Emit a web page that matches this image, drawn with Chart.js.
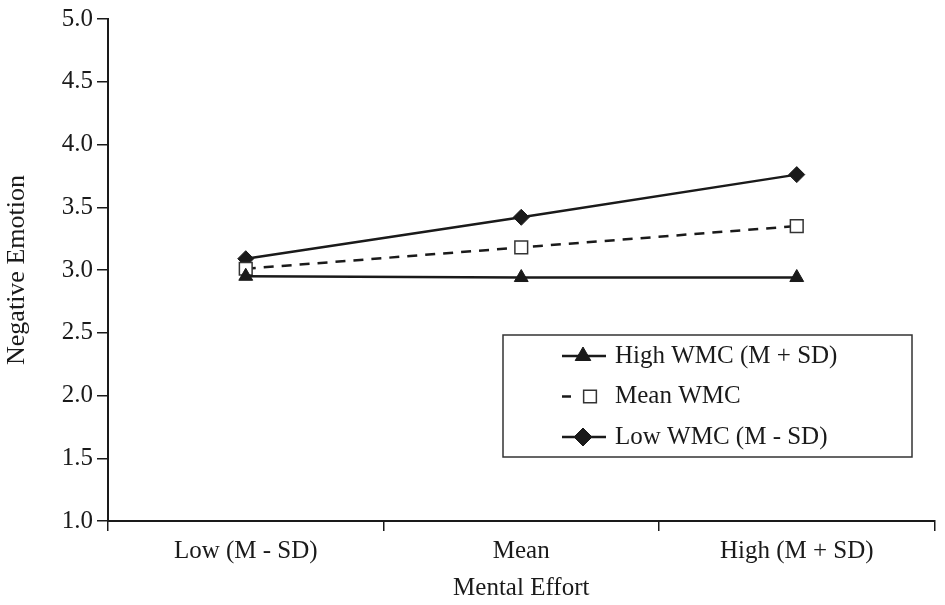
<!DOCTYPE html>
<html>
<head>
<meta charset="utf-8">
<script src="https://cdn.jsdelivr.net/npm/chart.js@4"></script>
<style>
  html, body { margin: 0; padding: 0; background: #fff; }
  #wrap { width: 945px; height: 605px; }
</style>
</head>
<body>
<div id="wrap"><canvas id="effortChart"></canvas></div>
<script>
// data
const effortLevels = ['Low (M - SD)', 'Mean', 'High (M + SD)'];
const highWMC = [2.95, 2.94, 2.94];
const meanWMC = [3.01, 3.18, 3.35];
const lowWMC = [3.09, 3.42, 3.76];
const seriesNames = ['High WMC (M + SD)', 'Mean WMC', 'Low WMC (M - SD)'];

const serif = 'Liberation Serif';
const ink = '#1a1a1a';

// legend drawn inside the plot area, like the original figure
const boxLegend = {
    id: 'boxLegend',
    afterDraw(chart) {
        const ctx = chart.ctx;
        const area = chart.chartArea;
        const x0 = area.left + 395, y0 = area.top + 316;
        const w = 409, h = 122;
        ctx.save();
        ctx.strokeStyle = '#333';
        ctx.lineWidth = 1.5;
        ctx.strokeRect(x0, y0, w, h);

        chart.data.datasets.forEach((ds, i) => {
            const cy = y0 + 21 + i * 40.5;
            const lx1 = x0 + 59, lx2 = x0 + 103;
            let mx = x0 + 80;
            ctx.strokeStyle = ink;
            ctx.lineWidth = 2.5;
            ctx.beginPath();
            if (ds.borderDash) {
                ctx.moveTo(lx1, cy); ctx.lineTo(lx1 + 9, cy);
                mx = x0 + 87;
            } else {
                ctx.moveTo(lx1, cy); ctx.lineTo(lx2, cy);
            }
            ctx.stroke();
            ctx.fillStyle = ds.pointBackgroundColor;
            ctx.strokeStyle = ds.pointBorderColor;
            ctx.lineWidth = ds.pointBorderWidth;
            Chart.helpers.drawPoint(ctx, {
                pointStyle: ds.pointStyle,
                radius: 9,
                borderWidth: ds.pointBorderWidth
            }, mx, cy);
            ctx.fillStyle = ink;
            ctx.font = '25px "' + serif + '"';
            ctx.textBaseline = 'middle';
            ctx.textAlign = 'left';
            ctx.fillText(ds.label, x0 + 112, cy);
        });
        ctx.restore();
    }
};

new Chart(document.getElementById('effortChart'), {
    type: 'line',
    data: {
        labels: effortLevels,
        datasets: [{
            label: seriesNames[0],
            data: highWMC,
            borderColor: ink,
            borderWidth: 2.5,
            pointStyle: 'triangle',
            pointRadius: 8,
            pointBackgroundColor: ink,
            pointBorderColor: ink,
            pointBorderWidth: 1
        }, {
            label: seriesNames[1],
            data: meanWMC,
            borderColor: ink,
            borderWidth: 2.5,
            borderDash: [10, 8],
            pointStyle: 'rect',
            pointRadius: 9,
            pointBackgroundColor: '#fff',
            pointBorderColor: '#333',
            pointBorderWidth: 1.5
        }, {
            label: seriesNames[2],
            data: lowWMC,
            borderColor: ink,
            borderWidth: 2.5,
            pointStyle: 'rectRot',
            pointRadius: 8,
            pointBackgroundColor: ink,
            pointBorderColor: ink,
            pointBorderWidth: 1
        }]
    },
    options: {
        responsive: true,
        maintainAspectRatio: false,
        animation: false,
        layout: { padding: { top: 2, right: 10, left: 0, bottom: 0 } },
        plugins: {
            legend: { display: false },
            tooltip: { enabled: false }
        },
        scales: {
            x: {
                offset: true,
                afterFit: scale => { scale.height = 84; },
                border: { color: ink, width: 2 },
                grid: { drawOnChartArea: false, offset: true, tickLength: 10, color: ink, lineWidth: 1.5 },
                ticks: { color: ink, padding: 5, font: { family: serif, size: 25 } },
                title: { display: true, text: 'Mental Effort', color: ink, padding: { top: 0, bottom: 2 }, font: { family: serif, size: 25 } }
            },
            y: {
                min: 1,
                max: 5,
                afterFit: scale => { scale.width = 108; },
                border: { color: ink, width: 2 },
                grid: { drawOnChartArea: false, tickLength: 11, color: ink, lineWidth: 1.5 },
                ticks: {
                    stepSize: 0.5,
                    color: ink,
                    padding: 4,
                    font: { family: serif, size: 25 },
                    callback: v => Number(v).toFixed(1)
                },
                title: { display: true, text: 'Negative Emotion', color: ink, padding: { top: 2, bottom: 0 }, font: { family: serif, size: 26 } }
            }
        }
    },
    plugins: [boxLegend]
});
</script>
</body>
</html>
